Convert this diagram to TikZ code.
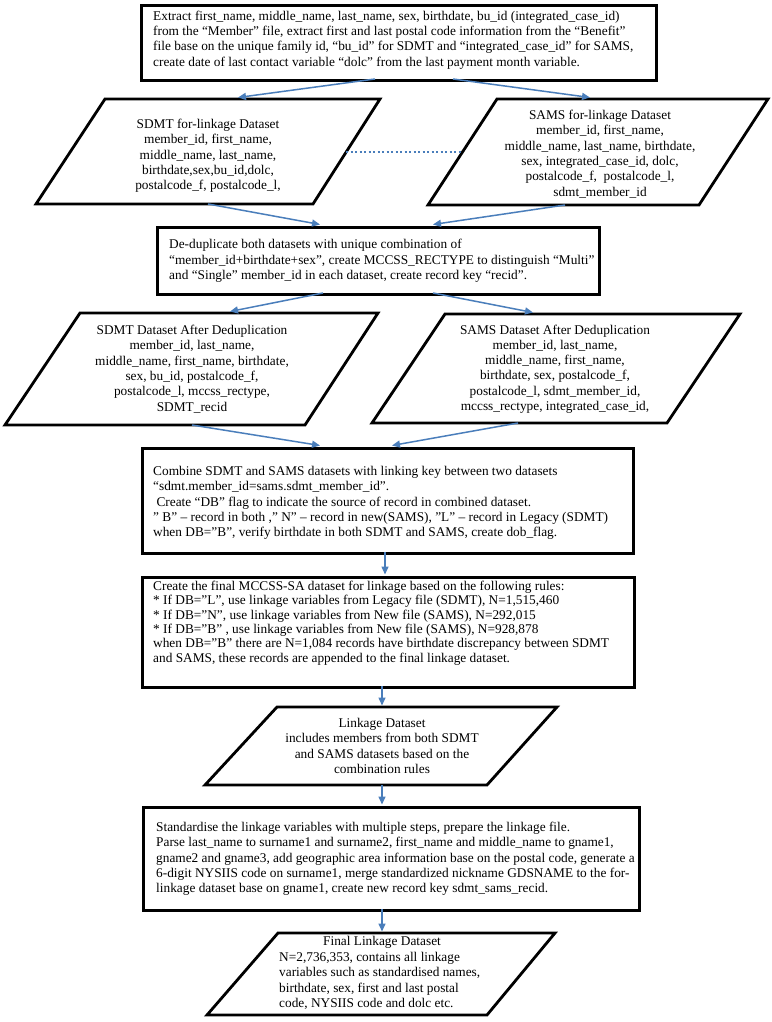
\documentclass[tikz,border=0pt]{standalone}
\usepackage{fontspec}
\setmainfont{Liberation Serif}
\usetikzlibrary{arrows.meta,calc}
\definecolor{arrowblue}{HTML}{4A7EBB}
\begin{document}
\begin{tikzpicture}[x=1pt,y=-1pt,
  box/.style={draw=black,line width=2.8pt,inner sep=0pt,anchor=north west},
  para/.style={draw=black,line width=2.8pt,line join=miter},
  txt/.style={font=\fontsize{13.33}{15.3}\selectfont,inner sep=0pt},
  ltxt/.style={txt,align=left,anchor=west},
  ctxt/.style={txt,align=center},
  flow/.style={draw=arrowblue,line width=1.5pt,-{Triangle[length=8pt,width=7pt]}},
  link/.style={draw=arrowblue,line width=2pt,dash pattern=on 2pt off 2.5pt}]
\useasboundingbox[fill=white] (0,0) rectangle (771,1022);

% ---------- rectangular process boxes ----------
\node[box,minimum width=515pt,minimum height=75pt] (top) at (140,4) {};
\node[box,minimum width=442pt,minimum height=67pt] (dedup) at (156,226) {};
\node[box,minimum width=491pt,minimum height=105pt] (combine) at (141,447) {};
\node[box,minimum width=492pt,minimum height=110pt] (rules) at (141,576) {};
\node[box,minimum width=496pt,minimum height=103pt] (std) at (142,806) {};

% ---------- parallelograms (data) ----------
\draw[para] (105,99) -- (380,99) -- (313,204) -- (36,204) -- cycle;
\draw[para] (497,99) -- (768,99) -- (699,205) -- (428,205) -- cycle;
\draw[para] (80,313) -- (378,313) -- (305,425) -- (5,425) -- cycle;
\draw[para] (445,314) -- (740,314) -- (667,423) -- (372,423) -- cycle;
\draw[para] (277,707) -- (557,707) -- (487,785) -- (205,785) -- cycle;
\draw[para] (278,933) -- (555,933) -- (487,1015) -- (207,1015) -- cycle;

% ---------- texts ----------
\node[ltxt] (toptxt) at (153,40) {Extract first\_name, middle\_name, last\_name, sex, birthdate, bu\_id (integrated\_case\_id)\\
from the “Member” file, extract first and last postal code information from the “Benefit”\\
file base on the unique family id, “bu\_id” for SDMT and “integrated\_case\_id” for SAMS,\\
create date of last contact variable “dolc” from the last payment month variable.};

\node[ctxt] (sdmt1) at (208,156) {SDMT for-linkage Dataset\\ member\_id, first\_name,\\ middle\_name, last\_name,\\ birthdate,sex,bu\_id,dolc,\\ postalcode\_f, postalcode\_l,};

\node[ctxt] (sams1) at (600,154) {SAMS for-linkage Dataset\\ member\_id, first\_name,\\ middle\_name, last\_name, birthdate,\\ sex, integrated\_case\_id, dolc,\\ postalcode\_f, \ postalcode\_l,\\ sdmt\_member\_id};

\node[ltxt] (deduptxt) at (169,261) {De-duplicate both datasets with unique combination of\\
“member\_id+birthdate+sex”, create MCCSS\_RECTYPE to distinguish “Multi”\\
and “Single” member\_id in each dataset, create record key “recid”.};

\node[ctxt] (sdmt2) at (192,369) {SDMT Dataset After Deduplication\\ member\_id, last\_name,\\ middle\_name, first\_name, birthdate,\\ sex, bu\_id, postalcode\_f,\\ postalcode\_l, mccss\_rectype,\\ SDMT\_recid};

\node[ctxt] (sams2) at (555,369) {SAMS Dataset After Deduplication\\ member\_id, last\_name,\\ middle\_name, first\_name,\\ birthdate, sex, postalcode\_f,\\ postalcode\_l, sdmt\_member\_id,\\ mccss\_rectype, integrated\_case\_id,};

\node[ltxt] (combtxt) at (153,503) {Combine SDMT and SAMS datasets with linking key between two datasets\\
“sdmt.member\_id=sams.sdmt\_member\_id”.\\
\hspace*{3.3pt}Create “DB” flag to indicate the source of record in combined dataset.\\
” B” – record in both ,” N” – record in new(SAMS), ”L” – record in Legacy (SDMT)\\
when DB=”B”, verify birthdate in both SDMT and SAMS, create dob\_flag.};

\node[ltxt,font=\fontsize{13.33}{14.3}\selectfont] (rulestxt) at (153,623) {Create the final MCCSS-SA dataset for linkage based on the following rules:\\
* If DB=”L”, use linkage variables from Legacy file (SDMT), N=1,515,460\\
* If DB=”N”, use linkage variables from New file (SAMS), N=292,015\\
* If DB=”B” , use linkage variables from New file (SAMS), N=928,878\\
when DB=”B” there are N=1,084 records have birthdate discrepancy between SDMT\\
and SAMS, these records are appended to the final linkage dataset.};

\node[ctxt] (linktxt) at (382,746) {Linkage Dataset\\ includes members from both SDMT\\ and SAMS datasets based on the\\ combination rules};

\node[ltxt] (stdtxt) at (156,859) {Standardise the linkage variables with multiple steps, prepare the linkage file.\\
Parse last\_name to surname1 and surname2, first\_name and middle\_name to gname1,\\
gname2 and gname3, add geographic area information base on the postal code, generate a\\
6-digit NYSIIS code on surname1, merge standardized nickname GDSNAME to the for-\\
linkage dataset base on gname1, create new record key sdmt\_sams\_recid.};

\node[ctxt] (finaltitle) at (382,942) {Final Linkage Dataset};
\node[ltxt] (finaltxt) at (279,981) {N=2,736,353, contains all linkage\\ variables such as standardised names,\\ birthdate, sex, first and last postal\\ code, NYSIIS code and dolc etc.};

% ---------- connector end points ----------
\coordinate (topOutL) at (375,79);
\coordinate (topOutR) at (453,79);
\coordinate (sdmt1In) at (238,97.5);
\coordinate (sams1In) at (590,97.5);
\coordinate (sdmt1Out) at (208,204);
\coordinate (sams1Out) at (565,205);
\coordinate (dedupInL) at (320,224.5);
\coordinate (dedupInR) at (433,224.5);
\coordinate (sdmt1Side) at (346,152);
\coordinate (sams1Side) at (462.5,152);
\coordinate (dedupOutL) at (323,293);
\coordinate (dedupOutR) at (433,293);
\coordinate (sdmt2In) at (230,311.5);
\coordinate (sams2In) at (533,312.5);
\coordinate (sdmt2Out) at (192,425);
\coordinate (sams2Out) at (518,423);
\coordinate (combInL) at (320,445.5);
\coordinate (combInR) at (392,445.5);
\coordinate (combOut) at (385,552);
\coordinate (rulesIn) at (385,574.5);
\coordinate (rulesOut) at (382,686);
\coordinate (linkIn) at (382,705.5);
\coordinate (linkOut) at (382,785);
\coordinate (stdIn) at (382,804.5);
\coordinate (stdOut) at (382,909);
\coordinate (finalIn) at (382,931.5);

% ---------- connectors ----------
\draw[flow] (topOutL) -- (sdmt1In);
\draw[flow] (topOutR) -- (sams1In);
\draw[link] (sdmt1Side) -- (sams1Side);
\draw[flow] (sdmt1Out) -- (dedupInL);
\draw[flow] (sams1Out) -- (dedupInR);
\draw[flow] (dedupOutL) -- (sdmt2In);
\draw[flow] (dedupOutR) -- (sams2In);
\draw[flow] (sdmt2Out) -- (combInL);
\draw[flow] (sams2Out) -- (combInR);
\draw[flow] (combOut) -- (rulesIn);
\draw[flow] (rulesOut) -- (linkIn);
\draw[flow] (linkOut) -- (stdIn);
\draw[flow] (stdOut) -- (finalIn);
\end{tikzpicture}
\end{document}
